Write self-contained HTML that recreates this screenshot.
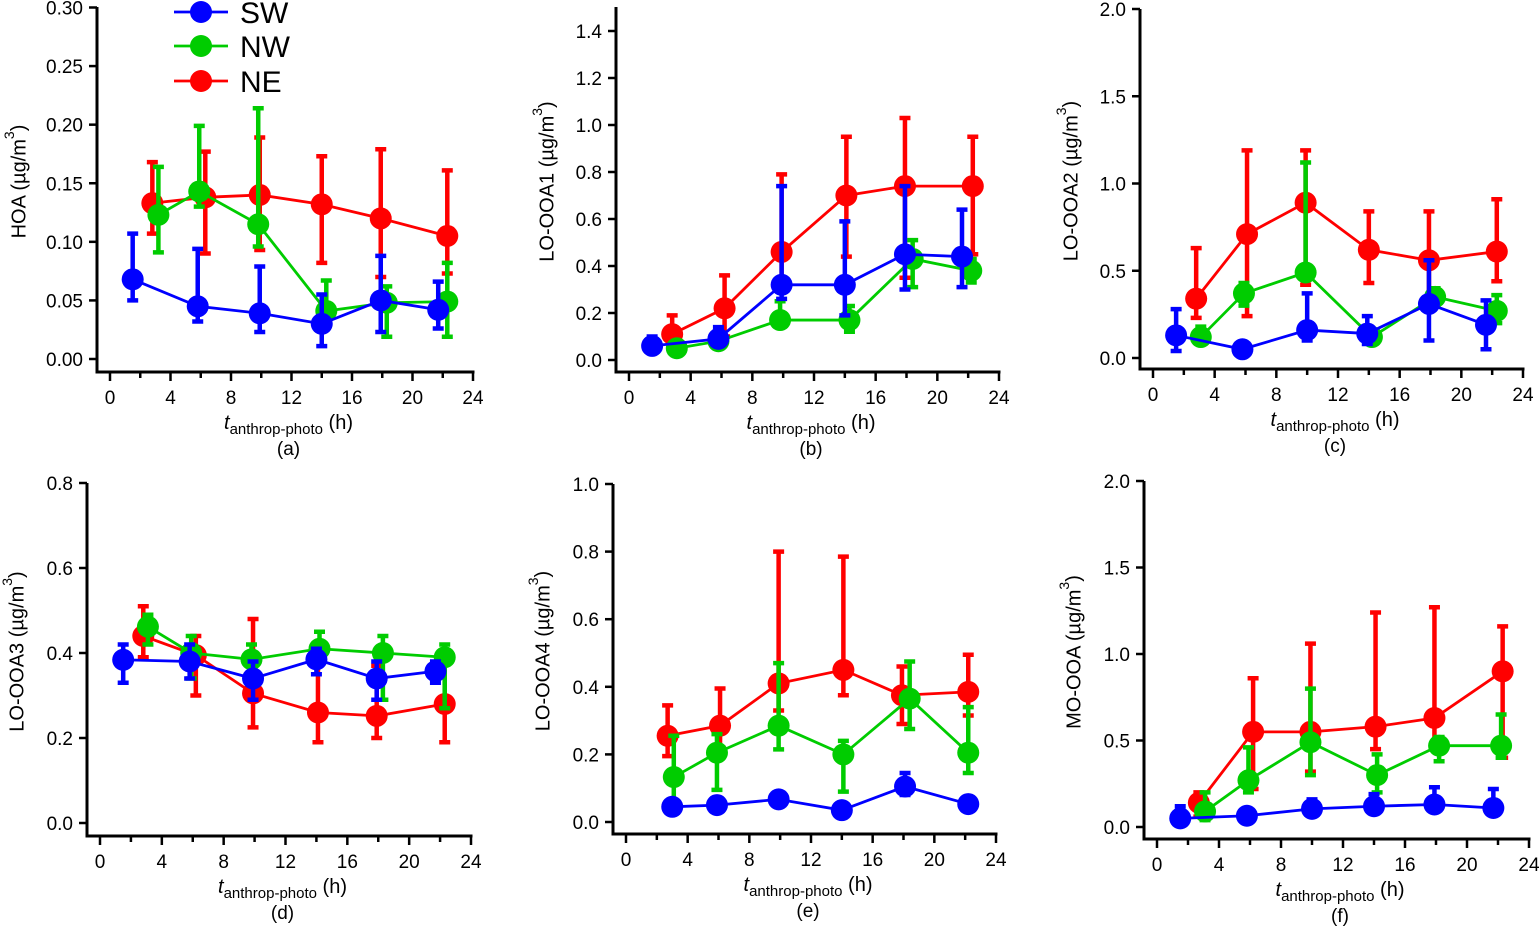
<!DOCTYPE html>
<html><head><meta charset="utf-8">
<style>
html,body{margin:0;padding:0;background:#fff;}
svg{display:block;font-family:"Liberation Sans",Arial,sans-serif;}
</style></head>
<body>
<svg id="fig" width="1540" height="927" viewBox="0 0 1540 927" xmlns="http://www.w3.org/2000/svg"></svg>
<script>
// ---- data (hours, values, error lows, error highs) ----
var swX_a=[1.5,5.8,9.9,14,17.9,21.7], swY_a=[0.068,0.045,0.039,0.030,0.050,0.042], swLo_a=[0.050,0.032,0.023,0.011,0.023,0.026], swHi_a=[0.107,0.094,0.079,0.055,0.088,0.066];
var nwX_a=[3.2,5.9,9.8,14.3,18.3,22.3], nwY_a=[0.123,0.143,0.115,0.041,0.048,0.049], nwLo_a=[0.091,0.130,0.096,0.035,0.019,0.019], nwHi_a=[0.164,0.199,0.214,0.067,0.062,0.082];
var neX_a=[2.8,6.3,9.9,14.0,17.9,22.3], neY_a=[0.133,0.138,0.140,0.132,0.120,0.105], neLo_a=[0.107,0.090,0.093,0.082,0.070,0.073], neHi_a=[0.168,0.177,0.189,0.173,0.179,0.161];

var swX_b=[1.5,5.8,9.9,14,17.9,21.6], swY_b=[0.06,0.09,0.32,0.32,0.45,0.44], swLo_b=[0.04,0.06,0.26,0.19,0.30,0.31], swHi_b=[0.10,0.14,0.74,0.59,0.74,0.64];
var nwX_b=[3.1,5.8,9.8,14.3,18.4,22.2], nwY_b=[0.05,0.08,0.17,0.17,0.43,0.38], nwLo_b=[0.03,0.06,0.15,0.12,0.31,0.33], nwHi_b=[0.07,0.12,0.25,0.23,0.51,0.43];
var neX_b=[2.8,6.2,9.9,14.1,17.9,22.3], neY_b=[0.11,0.22,0.46,0.70,0.74,0.74], neLo_b=[0.08,0.10,0.30,0.44,0.35,0.45], neHi_b=[0.19,0.36,0.79,0.95,1.03,0.95];

var swX_c=[1.5,5.8,10,13.9,17.9,21.6], swY_c=[0.13,0.05,0.16,0.14,0.31,0.19], swLo_c=[0.04,0.02,0.10,0.08,0.10,0.05], swHi_c=[0.28,0.07,0.37,0.24,0.56,0.33];
var nwX_c=[3.1,5.9,9.9,14.2,18.3,22.3], nwY_c=[0.12,0.37,0.49,0.12,0.35,0.27], nwLo_c=[0.08,0.30,0.45,0.08,0.30,0.20], nwHi_c=[0.18,0.43,1.12,0.16,0.40,0.36];
var neX_c=[2.8,6.1,9.9,14.0,17.9,22.3], neY_c=[0.34,0.71,0.89,0.62,0.56,0.61], neLo_c=[0.23,0.24,0.42,0.43,0.30,0.44], neHi_c=[0.63,1.19,1.19,0.84,0.84,0.91];

var swX_d=[1.5,5.8,9.9,14,17.9,21.7], swY_d=[0.384,0.380,0.340,0.385,0.340,0.357], swLo_d=[0.33,0.34,0.29,0.35,0.29,0.33], swHi_d=[0.42,0.42,0.38,0.41,0.38,0.38];
var nwX_d=[3.1,5.9,9.8,14.2,18.3,22.3], nwY_d=[0.462,0.400,0.385,0.410,0.400,0.390], nwLo_d=[0.42,0.34,0.34,0.38,0.29,0.27], nwHi_d=[0.49,0.44,0.42,0.45,0.44,0.42];
var neX_d=[2.8,6.2,9.9,14.1,17.9,22.3], neY_d=[0.440,0.395,0.305,0.260,0.252,0.280], neLo_d=[0.39,0.30,0.225,0.19,0.20,0.19], neHi_d=[0.51,0.44,0.48,0.39,0.37,0.39];

var swX_e=[3.0,5.9,9.9,14,18.1,22.2], swY_e=[0.045,0.050,0.067,0.035,0.105,0.053], swLo_e=[0.03,0.035,0.05,0.02,0.08,0.04], swHi_e=[0.06,0.065,0.08,0.05,0.145,0.065];
var nwX_e=[3.1,5.9,9.9,14.1,18.4,22.2], nwY_e=[0.133,0.205,0.285,0.200,0.365,0.205], nwLo_e=[0.05,0.095,0.215,0.09,0.275,0.145], nwHi_e=[0.255,0.26,0.47,0.24,0.475,0.34];
var neX_e=[2.7,6.1,9.9,14.1,17.9,22.2], neY_e=[0.255,0.285,0.410,0.450,0.375,0.385], neLo_e=[0.195,0.22,0.33,0.375,0.29,0.315], neHi_e=[0.345,0.395,0.80,0.785,0.46,0.495];

var swX_f=[1.5,5.8,10,14,17.9,21.7], swY_f=[0.05,0.065,0.105,0.12,0.13,0.11], swLo_f=[0.03,0.05,0.08,0.10,0.10,0.09], swHi_f=[0.12,0.08,0.16,0.19,0.23,0.22];
var nwX_f=[3.1,5.9,9.9,14.2,18.2,22.2], nwY_f=[0.09,0.27,0.49,0.30,0.47,0.47], nwLo_f=[0.04,0.20,0.30,0.20,0.38,0.40], nwHi_f=[0.20,0.46,0.80,0.42,0.52,0.65];
var neX_f=[2.7,6.2,9.9,14.1,17.9,22.3], neY_f=[0.14,0.55,0.55,0.58,0.63,0.90], neLo_f=[0.06,0.22,0.32,0.45,0.45,0.40], neHi_f=[0.20,0.86,1.06,1.24,1.27,1.16];

var xTickLabels=["0","4","8","12","16","20","24"];
var yTicks_a=["0.00","0.05","0.10","0.15","0.20","0.25","0.30"];
var yTicks_b=["0.0","0.2","0.4","0.6","0.8","1.0","1.2","1.4"];
var yTicks_c=["0.0","0.5","1.0","1.5","2.0"];
var yTicks_d=["0.0","0.2","0.4","0.6","0.8"];
var yTicks_e=["0.0","0.2","0.4","0.6","0.8","1.0"];
var yTicks_f=["0.0","0.5","1.0","1.5","2.0"];
var seriesNames=["SW","NW","NE"];

var NS="http://www.w3.org/2000/svg";
var svg=document.getElementById('fig');
var COL={SW:"#0000ff",NW:"#00cc00",NE:"#ff0000"};
function mk(tag,attrs,parent){var e=document.createElementNS(NS,tag);for(var k in attrs)e.setAttribute(k,attrs[k]);(parent||svg).appendChild(e);return e;}

var panels=[
 {id:"a",title:"HOA",ax:{L:97,B:372,T:7,x0:110,x24:473,y0:359,yt:7.5,ymax:0.30},ticks:yTicks_a,tOff:77,
  s:{SW:[swX_a,swY_a,swLo_a,swHi_a],NW:[nwX_a,nwY_a,nwLo_a,nwHi_a],NE:[neX_a,neY_a,neLo_a,neHi_a]}},
 {id:"b",title:"LO-OOA1",ax:{L:616,B:372,T:7,x0:629,x24:999,y0:360,yt:31,ymax:1.4},ticks:yTicks_b,tOff:68,
  s:{SW:[swX_b,swY_b,swLo_b,swHi_b],NW:[nwX_b,nwY_b,nwLo_b,nwHi_b],NE:[neX_b,neY_b,neLo_b,neHi_b]}},
 {id:"c",title:"LO-OOA2",ax:{L:1140,B:369,T:9,x0:1153,x24:1523,y0:358,yt:9,ymax:2.0},ticks:yTicks_c,tOff:68,
  s:{SW:[swX_c,swY_c,swLo_c,swHi_c],NW:[nwX_c,nwY_c,nwLo_c,nwHi_c],NE:[neX_c,neY_c,neLo_c,neHi_c]}},
 {id:"d",title:"LO-OOA3",ax:{L:87,B:836,T:483,x0:100,x24:471,y0:823,yt:483,ymax:0.8},ticks:yTicks_d,tOff:69,
  s:{SW:[swX_d,swY_d,swLo_d,swHi_d],NW:[nwX_d,nwY_d,nwLo_d,nwHi_d],NE:[neX_d,neY_d,neLo_d,neHi_d]}},
 {id:"e",title:"LO-OOA4",ax:{L:613,B:834,T:484,x0:626,x24:996,y0:822,yt:484,ymax:1.0},ticks:yTicks_e,tOff:69,
  s:{SW:[swX_e,swY_e,swLo_e,swHi_e],NW:[nwX_e,nwY_e,nwLo_e,nwHi_e],NE:[neX_e,neY_e,neLo_e,neHi_e]}},
 {id:"f",title:"MO-OOA",ax:{L:1144,B:839,T:481,x0:1157,x24:1529,y0:827,yt:481,ymax:2.0},ticks:yTicks_f,tOff:69,
  s:{SW:[swX_f,swY_f,swLo_f,swHi_f],NW:[nwX_f,nwY_f,nwLo_f,nwHi_f],NE:[neX_f,neY_f,neLo_f,neHi_f]}}
];

panels.forEach(function(p){
  var a=p.ax;
  var g=mk('g',{});
  
  
  function X(v){return a.x0+(a.x24-a.x0)*v/24;}
  function Y(v){return a.y0-(a.y0-a.yt)*v/a.ymax;}
  var yl=mk('line',{x1:a.L,y1:a.T,x2:a.L,y2:a.B+1.5,stroke:"#000","stroke-width":3},g);
  
  
  var xl=mk('line',{x1:a.L-1.5,y1:a.B,x2:X(24)+1.5,y2:a.B,stroke:"#000","stroke-width":3},g);
  
  
  for(var h=0;h<=24;h+=2){
    var major=(h%4===0);
    mk('line',{x1:X(h),y1:a.B,x2:X(h),y2:a.B+(major?9:6),stroke:"#000","stroke-width":2.5},g);
  }
  xTickLabels.forEach(function(t){
    var tx=mk('text',{x:X(+t),y:a.B+32,"text-anchor":"middle","font-size":19,fill:"#000"},g);
    tx.textContent=t;
    
    
  });
  p.ticks.forEach(function(t){
    var yy=Y(+t);
    mk('line',{x1:a.L-8,y1:yy,x2:a.L,y2:yy,stroke:"#000","stroke-width":2.5},g);
    var tx=mk('text',{x:a.L-14,y:yy+7,"text-anchor":"end","font-size":19,fill:"#000"},g);
    tx.textContent=t;
    
    
  });
  var cx=(X(0)+X(24))/2;
  var xt=mk('text',{x:cx-3,y:a.B+57,"text-anchor":"middle","font-size":20,fill:"#000"},g);
  
  
  xt.innerHTML='<tspan font-style="italic">t</tspan><tspan font-size="15" dy="5">anthrop-photo</tspan><tspan dy="-5"> (h)</tspan>';
  var pl=mk('text',{x:cx-3,y:a.B+83,"text-anchor":"middle","font-size":19,fill:"#000"},g);
  pl.textContent='('+p.id+')';
  
  
  var ty=(a.T+a.B)/2-8, tx0=a.L-p.tOff;
  var yt=mk('text',{x:tx0,y:ty,"text-anchor":"middle","font-size":20,fill:"#000",transform:"rotate(-90 "+tx0+" "+ty+")","dominant-baseline":"middle"},g);
  
  
  yt.innerHTML=p.title+' (µg/m<tspan font-size="14" dy="-10">3</tspan><tspan dy="10">)</tspan>';
  ["NE","NW","SW"].forEach(function(nm){
    var d=p.s[nm], c=COL[nm];
    var sg=mk('g',{},g);
    
    
    var pts=d[0].map(function(x,i){return X(x)+","+Y(d[1][i]);}).join(" ");
    var pl2=mk('polyline',{points:pts,fill:"none",stroke:c,"stroke-width":2.8},sg);
    
    
    d[0].forEach(function(x,i){
      var px=X(x), lo=Y(d[2][i]), hi=Y(d[3][i]);
      var eb=mk('path',{d:"M"+px+","+lo+"V"+hi+"M"+(px-5.5)+","+hi+"H"+(px+5.5)+"M"+(px-5.5)+","+lo+"H"+(px+5.5),stroke:c,"stroke-width":4.5,fill:"none"},sg);
      
      
      var m=mk('circle',{cx:px,cy:Y(d[1][i]),r:11,fill:c},sg);
      
      
    });
  });
});

var lg=mk('g',{});


var lys=[12,46,81];
seriesNames.forEach(function(nm,i){
  var e=mk('g',{},lg);
  
  
  mk('line',{x1:174,y1:lys[i],x2:228,y2:lys[i],stroke:COL[nm],"stroke-width":2.8},e);
  mk('circle',{cx:201,cy:lys[i],r:11,fill:COL[nm]},e);
  var t=mk('text',{x:240,y:lys[i]+11,"font-size":30,fill:"#000"},e);
  t.textContent=nm;
});
</script>
</body></html>
